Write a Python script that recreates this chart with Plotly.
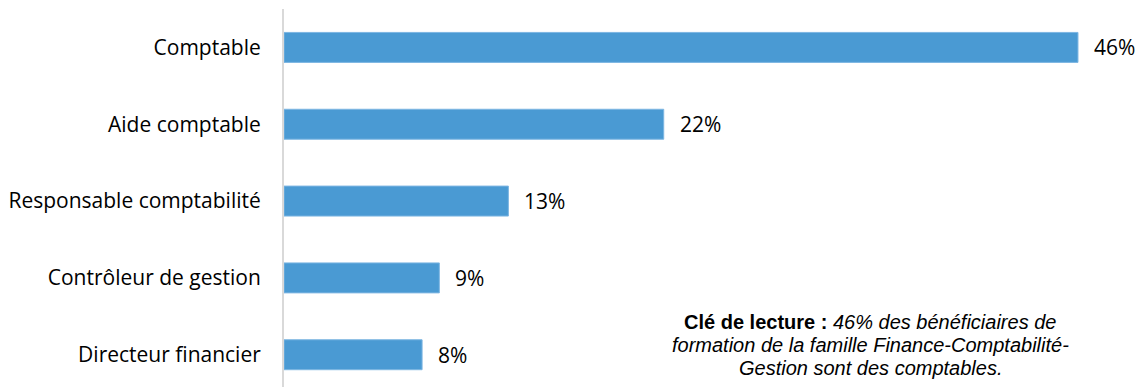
import plotly.graph_objects as go

# Métiers et part des bénéficiaires de formation (%)
categories = [
    "Comptable",
    "Aide comptable",
    "Responsable comptabilité",
    "Contrôleur de gestion",
    "Directeur financier",
]
values = [46, 22, 13, 9, 8]
labels = ["46%", "22%", "13%", "9%", "8%"]

# Reading key, one entry per line
key_lines = [
    "<b>Clé de lecture :</b> <i>46% des bénéficiaires de</i>",
    "<i>formation de la famille Finance-Comptabilité-</i>",
    "<i>Gestion sont des comptables.</i>",
]
key_line_y = [0.172, 0.110, 0.049]

BAR_COLOR = "#4A9AD3"
LABEL_FONT = dict(family="Open Sans, Noto Sans, sans-serif", size=21, color="#000000")
KEY_FONT = dict(family="Liberation Sans, Arial, sans-serif", size=20, color="#000000")

fig = go.Figure()
fig.add_trace(
    go.Bar(
        y=categories,
        x=values,
        orientation="h",
        marker=dict(color=BAR_COLOR, line=dict(color="#7DB6E2", width=1)),
        hoverinfo="skip",
        showlegend=False,
    )
)

# Value labels placed just past the end of each bar
for cat, val, lab in zip(categories, values, labels):
    fig.add_annotation(
        x=val,
        y=cat,
        xref="x",
        yref="y",
        text=lab,
        showarrow=False,
        xanchor="left",
        yanchor="middle",
        xshift=14,
        font=LABEL_FONT,
    )

for line, ly in zip(key_lines, key_line_y):
    fig.add_annotation(
        xref="paper",
        yref="paper",
        x=0.687,
        y=ly,
        xanchor="center",
        yanchor="middle",
        showarrow=False,
        borderpad=0,
        text=line,
        font=KEY_FONT,
    )

fig.update_layout(
    width=1137,
    height=387,
    margin=dict(l=284, r=0, t=9, b=0),
    paper_bgcolor="white",
    plot_bgcolor="white",
    bargap=0.61,
    xaxis=dict(
        range=[0, 49.42],
        showgrid=False,
        zeroline=False,
        showticklabels=False,
        showline=False,
        fixedrange=True,
    ),
    yaxis=dict(
        categoryorder="array",
        categoryarray=categories,
        range=[4.42, -0.5],
        showgrid=False,
        zeroline=False,
        showline=True,
        linecolor="#D9D9D9",
        linewidth=2,
        ticks="",
        ticklabelstandoff=17,
        tickfont=LABEL_FONT,
        fixedrange=True,
    ),
)

fig.write_html("out.html")
